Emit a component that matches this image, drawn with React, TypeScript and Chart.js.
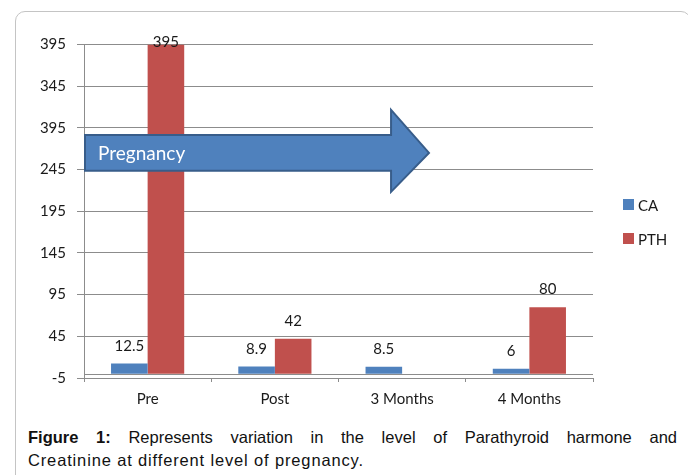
import React, { useEffect, useRef } from 'react';
import { Chart, registerables } from 'chart.js';

Chart.register(...registerables);

const categories = ['Pre', 'Post', '3 Months', '4 Months'];
const seriesNames = ['CA', 'PTH'];
const caValues: (number | null)[] = [12.5, 8.9, 8.5, 6];
const pthValues: (number | null)[] = [395, 42, null, 80];
const yTickValues = [-5, 45, 95, 145, 195, 245, 295, 345, 395];
const yTickLabels = ['-5', '45', '95', '145', '195', '245', '395', '345', '395'];
const arrowLabel = 'Pregnancy';
const captionBold = 'Figure 1:';
const captionLine1 = ' Represents variation in the level of Parathyroid harmone and';
const captionLine2 = 'Creatinine at different level of pregnancy.';

const BLUE = '#4F81BD';
const RED = '#C0504D';
const GRID = '#8c8c8c';
const FONT = 'Lato';

const overlayPlugin = {
  id: 'overlay',
  beforeDatasetsDraw(chart: any) {
    const { ctx, chartArea, scales } = chart;
    const y0 = scales.y.getPixelForValue(0);
    ctx.save();
    ctx.strokeStyle = GRID;
    ctx.lineWidth = 1;
    ctx.beginPath();
    ctx.moveTo(chartArea.left, Math.round(y0) + 0.5);
    ctx.lineTo(chartArea.right, Math.round(y0) + 0.5);
    ctx.stroke();
    ctx.restore();
  },
  afterDatasetsDraw(chart: any) {
    const { ctx, chartArea, scales } = chart;
    const xs = scales.x;
    const ys = scales.y;
    // Arrow annotation
    const left = chartArea.left + 1;
    const headX = xs.getPixelForValue(1.913);
    const tipX = xs.getPixelForValue(2.211);
    const bTop = ys.getPixelForValue(286.4);
    const bBot = ys.getPixelForValue(243.5);
    const hTop = ys.getPixelForValue(316.7);
    const hBot = ys.getPixelForValue(218.3);
    const mid = (bTop + bBot) / 2;
    ctx.save();
    ctx.beginPath();
    ctx.moveTo(left, bTop);
    ctx.lineTo(headX, bTop);
    ctx.lineTo(headX, hTop);
    ctx.lineTo(tipX, mid);
    ctx.lineTo(headX, hBot);
    ctx.lineTo(headX, bBot);
    ctx.lineTo(left, bBot);
    ctx.closePath();
    ctx.fillStyle = BLUE;
    ctx.fill();
    ctx.strokeStyle = '#385D8A';
    ctx.lineWidth = 2;
    ctx.lineJoin = 'miter';
    ctx.stroke();
    ctx.fillStyle = '#ffffff';
    ctx.font = `19px ${FONT}`;
    ctx.textAlign = 'left';
    ctx.textBaseline = 'middle';
    ctx.fillText(arrowLabel, left + 13, mid + 1);
    ctx.restore();

    // Data labels
    ctx.save();
    ctx.font = `15px ${FONT}`;
    ctx.fillStyle = '#1a1a1a';
    ctx.textAlign = 'center';
    ctx.textBaseline = 'middle';
    chart.data.datasets.forEach((ds: any, di: number) => {
      const meta = chart.getDatasetMeta(di);
      meta.data.forEach((el: any, i: number) => {
        const v = ds.data[i];
        if (v === null || v === undefined) return;
        const yy = Math.max(el.y - 17.5, chartArea.top - 2);
        ctx.fillText(String(v), el.x, yy);
      });
    });
    ctx.restore();

    // Legend
    ctx.save();
    const lx = chartArea.right + 30;
    const ly = [198, 232];
    const colors = [BLUE, RED];
    ctx.font = `15px ${FONT}`;
    ctx.textAlign = 'left';
    ctx.textBaseline = 'middle';
    seriesNames.forEach((n, i) => {
      ctx.fillStyle = colors[i];
      ctx.fillRect(lx, ly[i] - 7, 11, 11);
      ctx.fillStyle = '#1a1a1a';
      ctx.fillText(n, lx + 15, ly[i]);
    });
    ctx.restore();
  },
};

export default function App() {
  const ref = useRef<HTMLCanvasElement | null>(null);

  useEffect(() => {
    if (!ref.current) return;
    const chart = new Chart(ref.current, {
      type: 'bar',
      data: {
        labels: categories,
        datasets: [
          {
            label: seriesNames[0],
            data: caValues,
            backgroundColor: BLUE,
            categoryPercentage: 0.575,
            barPercentage: 1,
          },
          {
            label: seriesNames[1],
            data: pthValues,
            backgroundColor: RED,
            categoryPercentage: 0.575,
            barPercentage: 1,
          },
        ],
      },
      options: {
        animation: false,
        responsive: false,
        layout: { padding: { top: 36.5, right: 95, left: 0, bottom: 0 } },
        plugins: { legend: { display: false }, tooltip: { enabled: false } },
        scales: {
          x: {
            afterFit: (s: any) => {
              s.height = 40;
            },
            grid: {
              offset: true,
              drawOnChartArea: false,
              drawTicks: true,
              tickLength: 4,
              color: GRID,
            },
            border: { color: GRID },
            ticks: { font: { family: FONT, size: 15 }, color: '#1a1a1a', padding: 8 },
          },
          y: {
            min: -5,
            max: 395,
            afterFit: (s: any) => {
              s.width = 76;
            },
            afterBuildTicks: (s: any) => {
              s.ticks = yTickValues.map((v) => ({ value: v }));
            },
            grid: { color: GRID, tickLength: 7 },
            border: { color: GRID },
            ticks: {
              font: { family: FONT, size: 15 },
              color: '#1a1a1a',
              padding: 11,
              callback: (_v: any, i: number) => yTickLabels[i],
            },
          },
        },
      },
      plugins: [overlayPlugin],
    });
    return () => chart.destroy();
  }, []);

  return (
    <div style={{ position: 'relative', width: 680, height: 467 }}>
      <div
        style={{
          position: 'absolute',
          left: 7,
          top: 3,
          width: 676,
          height: 490,
          border: '1.5px solid #c4c4c4',
          borderRadius: 10,
          boxSizing: 'border-box',
        }}
      />
      <canvas
        ref={ref}
        width={680}
        height={410}
        style={{ position: 'absolute', left: 0, top: 0, width: 680, height: 410 }}
      />
      <div
        style={{
          position: 'absolute',
          left: 20,
          top: 417.5,
          width: 649,
          fontFamily: '"Liberation Sans", Arial, sans-serif',
          fontSize: 16.5,
          lineHeight: '23px',
          letterSpacing: '0.85px',
          color: '#111',
        }}
      >
        <div style={{ textAlign: 'justify', textAlignLast: 'justify' as any, whiteSpace: 'nowrap', letterSpacing: 0 }}>
          <b>{captionBold}</b>
          {captionLine1}
        </div>
        <div>{captionLine2}</div>
      </div>
    </div>
  );
}
